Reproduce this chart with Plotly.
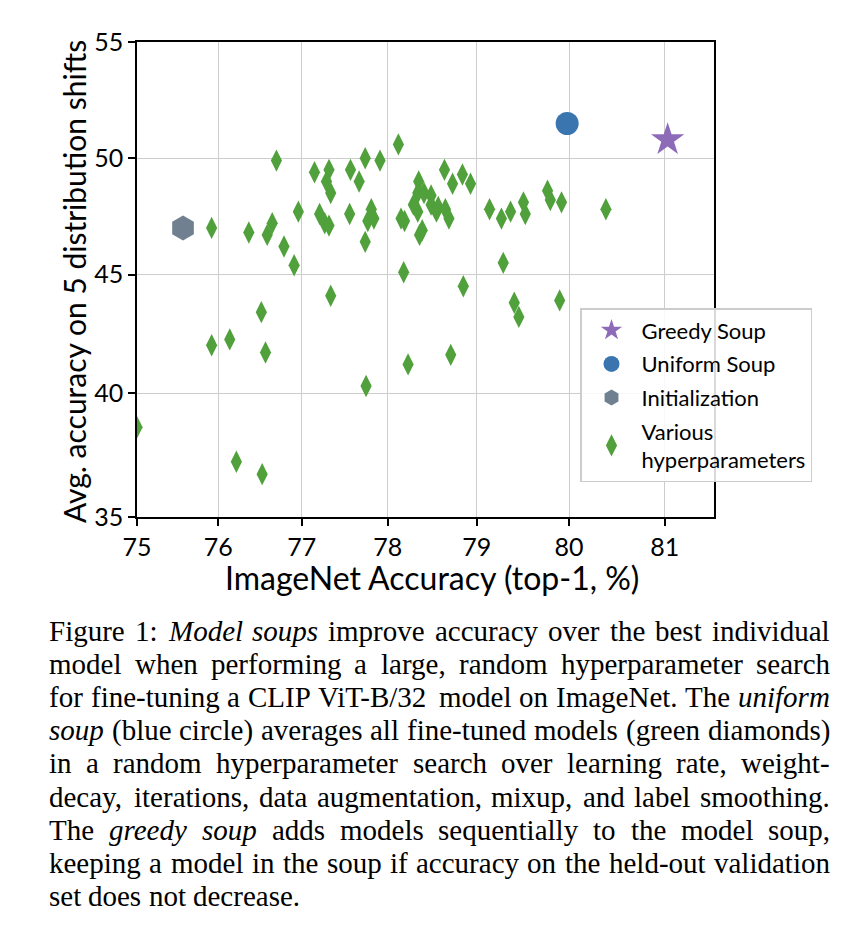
import math
import plotly.graph_objects as go

# ---------------- data ----------------
various_x = [75.00, 75.92, 75.92, 76.14, 76.37, 76.22, 76.53, 76.52, 76.57, 76.59,
             76.65, 76.70, 76.79, 76.91, 76.96, 77.15, 77.32, 77.29, 77.34, 77.21,
             77.27, 77.32, 77.34, 77.57, 77.67, 77.74, 77.91, 77.56, 77.81, 77.77,
             77.84, 77.74, 77.75, 78.12, 78.15, 78.19, 78.18, 78.23, 78.35, 78.34,
             78.41, 78.49, 78.29, 78.34, 78.49, 78.57, 78.55, 78.65, 78.69, 78.39,
             78.36, 78.64, 78.84, 78.73, 78.93, 78.71, 78.85, 79.14, 79.27, 79.37,
             79.29, 79.41, 79.46, 79.51, 79.53, 79.77, 79.80, 79.92, 79.90, 80.39]
various_y = [38.6, 47.0, 42.0, 42.25, 46.8, 37.2, 36.7, 43.4, 41.7, 46.7,
             47.2, 49.9, 46.2, 45.4, 47.7, 49.4, 49.5, 49.0, 48.5, 47.6,
             47.2, 47.1, 44.1, 49.5, 49.0, 50.0, 49.9, 47.6, 47.8, 47.3,
             47.4, 46.4, 40.3, 50.6, 47.4, 47.3, 45.1, 41.2, 49.0, 48.5,
             48.5, 48.4, 48.0, 47.7, 48.0, 47.9, 47.7, 47.8, 47.4, 46.9,
             46.7, 49.5, 49.3, 48.9, 48.9, 41.6, 44.5, 47.8, 47.4, 47.7,
             45.5, 43.8, 43.2, 48.1, 47.6, 48.6, 48.2, 48.1, 43.9, 47.8]
init_x = [75.57]
init_y = [47.0]
uniform_x = [79.98]
uniform_y = [51.5]
greedy_x = [81.03]
greedy_y = [50.8]

x_ticks = [75, 76, 77, 78, 79, 80, 81]
y_ticks = [35, 40, 45, 50, 55]
x_lim = [75, 81.5]
y_lim = [35, 55]

caption_lines = [
    "Figure 1: _Model_ _soups_ improve accuracy over the best individual",
    "model when performing a large, random hyperparameter search",
    "for fine-tuning a CLIP ViT-B/32 model on ImageNet. The _uniform_",
    "_soup_ (blue circle) averages all fine-tuned models (green diamonds)",
    "in a random hyperparameter search over learning rate, weight-",
    "decay, iterations, data augmentation, mixup, and label smoothing.",
    "The _greedy_ _soup_ adds models sequentially to the model soup,",
    "keeping a model in the soup if accuracy on the held-out validation",
    "set does not decrease.",
]


def logit(v):
    p = v / 100.0
    return math.log(p / (1.0 - p))


# ---------------- layout geometry ----------------
# page body has an 8px margin, so the figure is drawn 8px smaller / shifted
OFF = 8
W, H = 860 - OFF, 938 - OFF
L, R, T, B = 137, 714, 42, 517          # plot box in screenshot pixels
PW, PH = R - L, B - T


def px_to_paper_x(px):
    return (px - L) / PW


def py_to_paper_y(py):
    return (B - py) / PH


SANS = "Lato, 'Open Sans', 'DejaVu Sans', sans-serif"
SERIF = "'Liberation Serif', 'Times New Roman', serif"

fig = go.Figure()

fig.add_trace(go.Scatter(
    x=[logit(v) for v in greedy_x], y=[logit(v) for v in greedy_y],
    mode="markers", name="Greedy Soup", legendgroup="g1",
    marker=dict(symbol="star", size=25, color="#8e6bb8", line=dict(width=0)),
))
fig.add_trace(go.Scatter(
    x=[logit(v) for v in uniform_x], y=[logit(v) for v in uniform_y],
    mode="markers", name="Uniform Soup", legendgroup="g2",
    marker=dict(symbol="circle", size=23, color="#3a75af", line=dict(width=0)),
))
fig.add_trace(go.Scatter(
    x=[logit(v) for v in init_x], y=[logit(v) for v in init_y],
    mode="markers", name="Initialization", legendgroup="g3",
    marker=dict(symbol="hexagon", size=25, color="#708090", line=dict(width=0)),
))
fig.add_trace(go.Scatter(
    x=[logit(v) for v in various_x], y=[logit(v) for v in various_y],
    mode="markers", name="Various<br>hyperparameters", legendgroup="g4",
    marker=dict(symbol="diamond-tall", size=16, color="#50a03c", line=dict(width=0)),
))

axis_common = dict(
    showline=True, linecolor="black", linewidth=1.5, mirror=True,
    showgrid=True, gridcolor="#cdcdcd", gridwidth=1.3,
    ticks="outside", ticklen=7, tickwidth=1.5, tickcolor="black",
    tickfont=dict(family=SANS, size=25, color="black"),
    zeroline=False,
)

fig.update_xaxes(
    range=[logit(x_lim[0]), logit(x_lim[1])],
    tickvals=[logit(v) for v in x_ticks], ticktext=[str(v) for v in x_ticks],
    **axis_common,
)
fig.update_yaxes(
    range=[logit(y_lim[0]), logit(y_lim[1])],
    tickvals=[logit(v) for v in y_ticks], ticktext=[str(v) for v in y_ticks],
    **axis_common,
)

annotations = [
    dict(text="ImageNet Accuracy (top-1, %)", xref="paper", yref="paper",
         x=px_to_paper_x(432), y=py_to_paper_y(577), xanchor="center", yanchor="middle",
         showarrow=False, font=dict(family=SANS, size=32, color="black")),
    dict(text="Avg. accuracy on 5 distribution shifts", xref="paper", yref="paper",
         x=px_to_paper_x(74), y=py_to_paper_y(282), xanchor="center", yanchor="middle",
         textangle=-90, showarrow=False, font=dict(family=SANS, size=30, color="black")),
]

# ---------------- justified caption (word by word) ----------------
ROMAN = {
    'a': 444, 'b': 500, 'c': 444, 'd': 500, 'e': 444, 'f': 333, 'g': 500, 'h': 500,
    'i': 278, 'j': 278, 'k': 500, 'l': 278, 'm': 778, 'n': 500, 'o': 500, 'p': 500,
    'q': 500, 'r': 333, 's': 389, 't': 278, 'u': 500, 'v': 500, 'w': 722, 'x': 500,
    'y': 500, 'z': 444,
    'A': 722, 'B': 667, 'C': 667, 'D': 722, 'E': 611, 'F': 556, 'G': 722, 'H': 722,
    'I': 333, 'J': 389, 'K': 722, 'L': 611, 'M': 889, 'N': 722, 'O': 722, 'P': 556,
    'Q': 722, 'R': 667, 'S': 556, 'T': 611, 'U': 722, 'V': 722, 'W': 944, 'X': 722,
    'Y': 722, 'Z': 611,
    ' ': 250, ',': 250, '.': 250, ':': 278, ';': 278, '-': 333, '/': 278,
    '(': 333, ')': 333,
}
ITALIC = dict(ROMAN)
ITALIC.update({'a': 500, 'f': 278, 'k': 444, 'm': 722, 'r': 389, 'v': 444,
               'w': 667, 'x': 444, 'y': 444, 'z': 389, 'M': 833})


def word_width(word, italic, fs):
    table = ITALIC if italic else ROMAN
    return sum(table.get(ch, 500) for ch in word) * fs / 1000.0


CAP_FS = 29
CAP_LEFT, CAP_RIGHT = 48, 829
CAP_Y0, CAP_DY = 631, 33.1

for i, line in enumerate(caption_lines):
    words = []
    for w in line.split(" "):
        italic = w.startswith("_") and w.endswith("_")
        words.append((w.strip("_"), italic))
    widths = [word_width(w, it, CAP_FS) for w, it in words]
    last = (i == len(caption_lines) - 1)
    if last or len(words) == 1:
        gap = ROMAN[' '] * CAP_FS / 1000.0
    else:
        gap = (CAP_RIGHT - CAP_LEFT - sum(widths)) / (len(words) - 1)
    cx = CAP_LEFT
    cy = CAP_Y0 + i * CAP_DY
    for (w, it), ww in zip(words, widths):
        annotations.append(dict(
            text=("<i>%s</i>" % w) if it else w,
            xref="paper", yref="paper",
            x=px_to_paper_x(cx), y=py_to_paper_y(cy),
            xanchor="left", yanchor="middle", showarrow=False,
            borderpad=0,
            font=dict(family=SERIF, size=CAP_FS, color="black"),
        ))
        cx += ww + gap

fig.update_layout(
    width=W, height=H,
    margin=dict(l=L - OFF, r=W - (R - OFF), t=T - OFF, b=H - (B - OFF), autoexpand=False),
    paper_bgcolor="white", plot_bgcolor="white",
    showlegend=True,
    legend=dict(
        x=px_to_paper_x(580), y=py_to_paper_y(308), xanchor="left", yanchor="top",
        bgcolor="rgba(255,255,255,0.85)", bordercolor="#cccccc", borderwidth=1.5,
        font=dict(family=SANS, size=22, color="black"),
        itemwidth=50, itemsizing="trace", tracegroupgap=2,
    ),
    annotations=annotations,
)

fig.write_html("out.html")
